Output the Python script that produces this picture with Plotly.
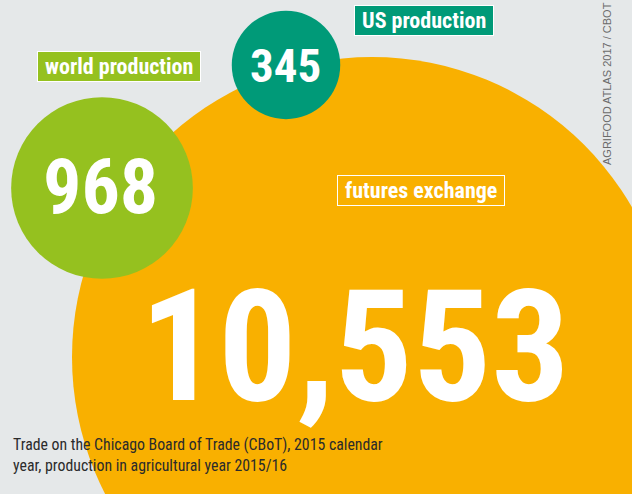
import math
import plotly.graph_objects as go

# Values (million tonnes): trade on the CBoT vs. production
categories = ["futures exchange", "world production", "US production"]
values = [10553, 968, 345]

# Layout: circle centres (pixel-like coordinates) and colours
centers = [(372, 357), (102, 188), (286, 65)]
fills = ["#f9b000", "#95c11f", "#009a78"]
label_pos = [(421, 190.5), (118.5, 66.5), (423.5, 20.5)]
number_pos = [(355, 347), (100, 187), (285, 65)]
number_size = [155, 76, 47]

W, H = 632, 494
BG = "#e5e8e9"
K = 300 / math.sqrt(max(values))  # circle area proportional to value

NARROW = "Roboto Condensed, Roboto, sans-serif"

fig = go.Figure()

shapes = []
for v, (cx, cy), col in zip(values, centers, fills):
    r = K * math.sqrt(v)
    shapes.append(dict(type="circle", xref="x", yref="y",
                       x0=cx - r, x1=cx + r, y0=cy - r, y1=cy + r,
                       fillcolor=col, line=dict(width=0), layer="below"))

annotations = []
for v, (x, y), fs in zip(values, number_pos, number_size):
    annotations.append(dict(x=x, y=y, xref="x", yref="y", text=f"{v:,}",
                            showarrow=False, xanchor="center", yanchor="middle",
                            font=dict(family=NARROW, size=fs, color="white", weight="bold")))

for name, (x, y), col in zip(categories, label_pos, fills):
    annotations.append(dict(x=x, y=y, xref="x", yref="y", text=f"\u00a0{name}\u00a0",
                            showarrow=False, xanchor="center", yanchor="middle",
                            bgcolor=col, bordercolor="white", borderwidth=1, borderpad=2,
                            font=dict(family=NARROW, size=22, color="white", weight="bold")))

annotations.append(dict(x=11, y=455, xref="x", yref="y",
                        text="Trade on the Chicago Board of Trade (CBoT), 2015 calendar<br>"
                             "year, production in agricultural year 2015/16",
                        showarrow=False, xanchor="left", yanchor="middle", align="left",
                        font=dict(family=NARROW, size=15.8, color="#2b2b2b")))

annotations.append(dict(x=607, y=84, xref="x", yref="y",
                        text="AGRIFOOD ATLAS 2017 / CBOT",
                        showarrow=False, textangle=-90, xanchor="center", yanchor="middle",
                        font=dict(family="Liberation Sans, Arial, sans-serif", size=11, color="#6b6b6b")))

fig.update_layout(
    width=W, height=H,
    margin=dict(l=0, r=0, t=0, b=0),
    paper_bgcolor=BG, plot_bgcolor=BG,
    xaxis=dict(range=[0, W], visible=False, fixedrange=True),
    yaxis=dict(range=[H, 0], visible=False, fixedrange=True),
    shapes=shapes, annotations=annotations,
    showlegend=False,
)

fig.write_html("out.html")
